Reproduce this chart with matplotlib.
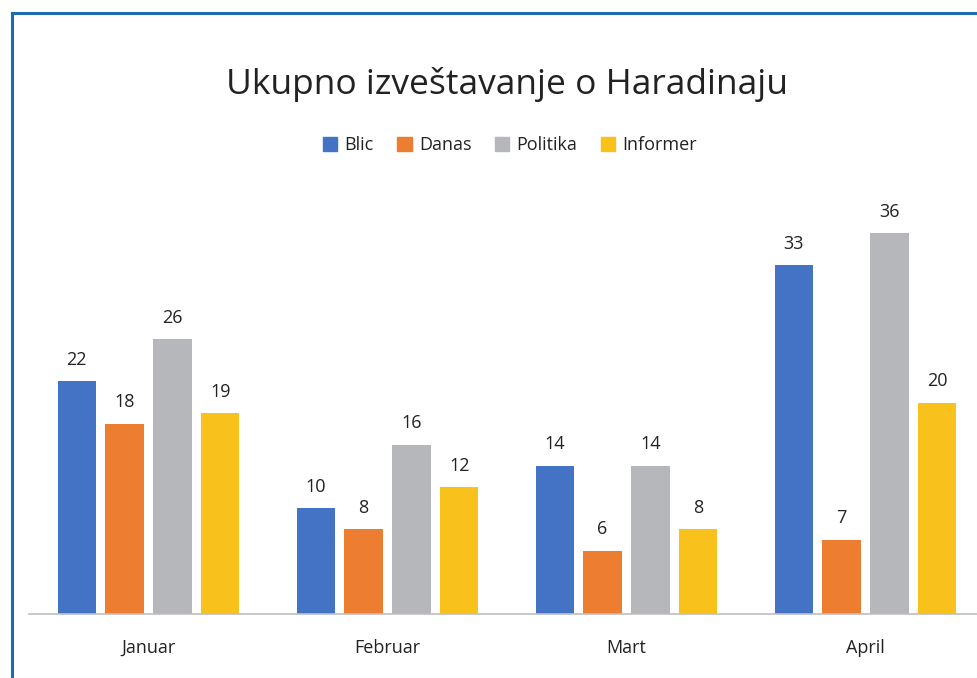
"""Grouped bar chart: Ukupno izveštavanje o Haradinaju."""

from matplotlib import pyplot
from matplotlib.patches import Rectangle
from matplotlib.lines import Line2D
import numpy as np

# Data.
months = ['Januar', 'Februar', 'Mart', 'April']
blic = [22, 10, 14, 33]
danas = [18, 8, 6, 7]
politika = [26, 16, 14, 36]
informer = [19, 12, 8, 20]

series = [('Blic', blic, '#4472C4'),
          ('Danas', danas, '#ED7D31'),
          ('Politika', politika, '#B6B7BB'),
          ('Informer', informer, '#F8C11C')]

pyplot.rc('font', family=['Open Sans', 'DejaVu Sans'])
W, H = 977, 678
fig = pyplot.figure(figsize=(W / 100, H / 100), dpi=100)

# Plot area (the right end runs off the picture, as in the reference).
left, right, top, bottom = 29, 985, 191, 614
ax = fig.add_axes([left / W, 1 - bottom / H, (right - left) / W, (bottom - top) / H])

x = np.arange(len(months))
width, step = 0.16, 0.2
text_color = '#222222'
for i, (name, values, color) in enumerate(series):
    offs = (i - 1.5) * step
    bars = ax.bar(x + offs, values, width=width, color=color, label=name)
    ax.bar_label(bars, padding=9, fontsize=13, color=text_color)

ax.set_xlim(-0.5, len(months) - 0.5)
ax.set_ylim(0, 40)
ax.set_xticks(x)
ax.set_xticklabels(months, fontsize=13, color=text_color)
ax.tick_params(axis='x', length=0, pad=18)
ax.set_yticks([])
for side in ['top', 'right', 'left']:
    ax.spines[side].set_visible(False)
ax.spines['bottom'].set_color('#BFBFBF')
ax.spines['bottom'].set_linewidth(1.2)

# Title and legend.
fig.text(507 / W, 1 - 85 / H, 'Ukupno izveštavanje o Haradinaju',
         ha='center', va='center', fontsize=25.5, color=text_color)
handles = [Rectangle((0, 0), 1, 1, color=c) for _, _, c in series]
fig.legend(handles, [s[0] for s in series], loc='center',
           bbox_to_anchor=(510 / W, 1 - 145 / H), ncol=4, frameon=False,
           fontsize=13, handlelength=0.8, handleheight=0.8,
           handletextpad=0.4, columnspacing=1.3, labelcolor=text_color)

# Blue frame along the top and left edges.
frame = '#1F6BB0'
fig.add_artist(Line2D([12 / W, 1], [1 - 13 / H, 1 - 13 / H], color=frame,
                      linewidth=2.2, transform=fig.transFigure))
fig.add_artist(Line2D([12 / W, 12 / W], [0, 1 - 13 / H], color=frame,
                      linewidth=2.2, transform=fig.transFigure))

fig.savefig('out.png', dpi=100)
